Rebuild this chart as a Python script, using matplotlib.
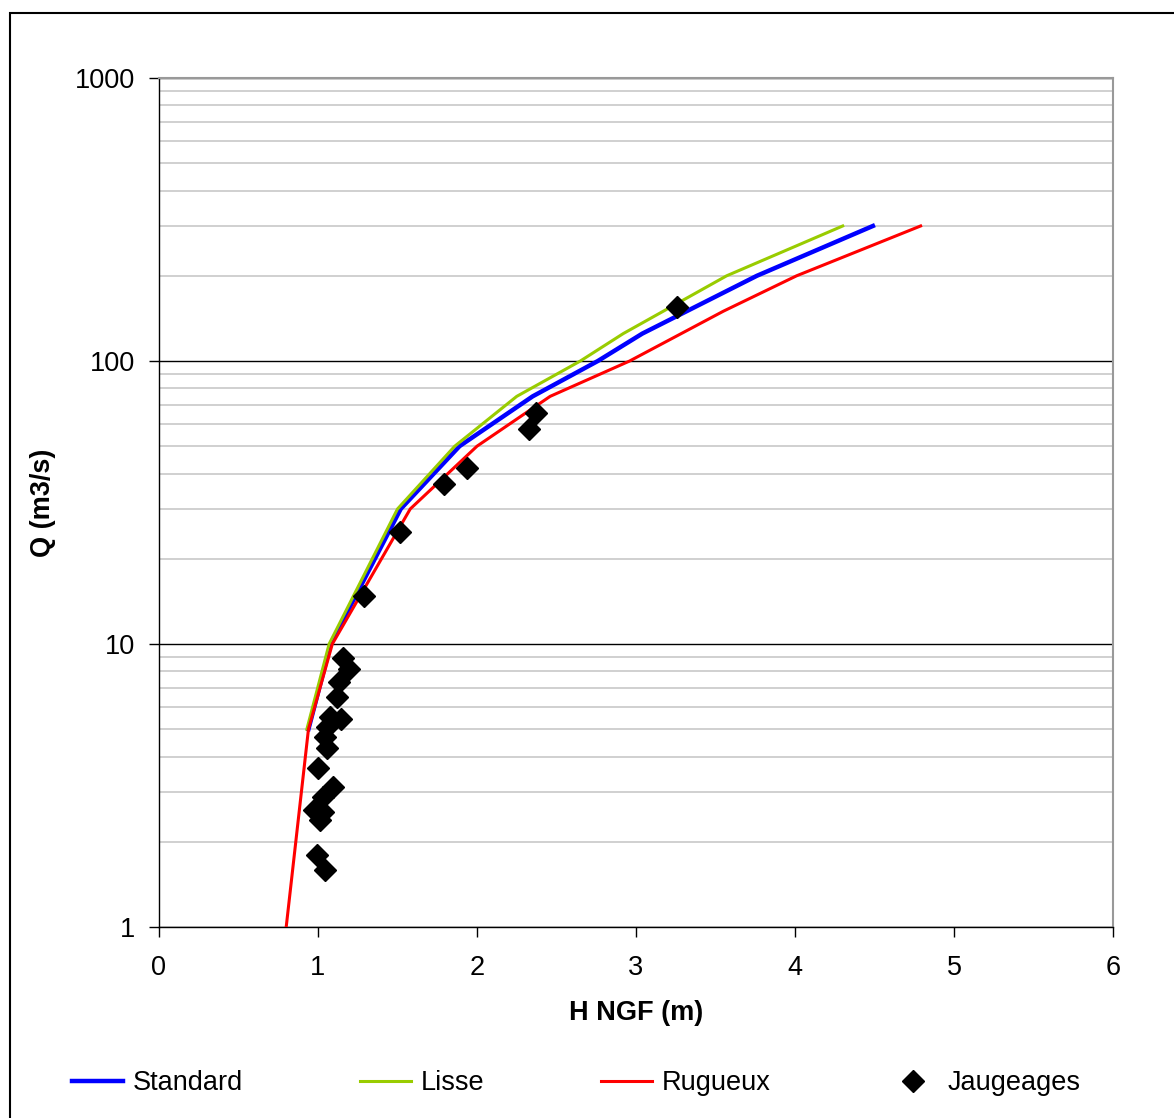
import matplotlib as mpl
mpl.use('Agg')
import matplotlib.pyplot as plt
from matplotlib.ticker import LogLocator, NullFormatter, FixedLocator
from matplotlib.patches import Rectangle
import numpy as np

plt.rcParams['font.family'] = ['Liberation Sans', 'DejaVu Sans']

# courbes de tarage (H en m NGF, Q en m3/s)
q_standard = [5, 10, 30, 50, 75, 100, 125, 200, 300]
h_standard = [0.94, 1.08, 1.52, 1.89, 2.35, 2.76, 3.04, 3.76, 4.49]

q_lisse = [5, 10, 30, 50, 75, 100, 125, 200, 300]
h_lisse = [0.93, 1.07, 1.50, 1.86, 2.25, 2.65, 2.92, 3.57, 4.30]

q_rugueux = [1, 5, 10, 30, 50, 75, 100, 150, 200, 300]
h_rugueux = [0.80, 0.94, 1.09, 1.58, 2.00, 2.46, 2.96, 3.55, 4.01, 4.79]

# jaugeages
h_jaug = [1.157, 1.195, 1.132, 1.12, 1.075, 1.145, 1.057, 1.044, 1.057, 1.0,
          1.094, 1.031, 0.975, 1.031, 1.013, 0.994, 1.044,
          1.29, 1.516, 1.79, 1.94, 2.33, 2.37, 3.26]
q_jaug = [8.92, 8.16, 7.34, 6.50, 5.52, 5.43, 5.09, 4.69, 4.29, 3.65,
          3.12, 2.88, 2.59, 2.55, 2.39, 1.80, 1.59,
          14.8, 24.9, 36.8, 41.9, 57.5, 65.5, 155]

fs = 19.5

fig = plt.figure(figsize=(11.74, 11.18), dpi=100)
ax = fig.add_axes([159/1174, 1-927/1118, (1113-159)/1174, (927-78)/1118])

ax.plot(h_standard, q_standard, color='#0000FF', lw=3.2, label='Standard', zorder=3)
ax.plot(h_lisse, q_lisse, color='#99CC00', lw=2.2, label='Lisse', zorder=3)
ax.plot(h_rugueux, q_rugueux, color='#FF0000', lw=2.2, label='Rugueux', zorder=3)
ax.plot(h_jaug, q_jaug, 'D', color='black', ms=11, ls='none', label='Jaugeages', zorder=4)

ax.set_yscale('log')
ax.set_xlim(0, 6)
ax.set_ylim(1, 1000)
ax.xaxis.set_major_locator(FixedLocator([0, 1, 2, 3, 4, 5, 6]))
ax.yaxis.set_major_locator(FixedLocator([1, 10, 100, 1000]))
ax.yaxis.set_major_formatter(mpl.ticker.FuncFormatter(lambda v, p: '%d' % v))
ax.yaxis.set_minor_locator(LogLocator(base=10, subs=np.arange(2, 10)))
ax.yaxis.set_minor_formatter(NullFormatter())

ax.grid(True, which='minor', axis='y', color='#c8c8c8', lw=1.2, zorder=1)
ax.grid(True, which='major', axis='y', color='black', lw=1.0, zorder=1)
ax.set_axisbelow(True)

ax.tick_params(axis='both', which='major', direction='out', length=7, width=1,
               labelsize=fs, color='black')
ax.tick_params(axis='y', which='major', pad=10)
ax.tick_params(axis='x', which='major', pad=13)
ax.tick_params(axis='y', which='minor', length=0)

for s in ['top', 'right']:
    ax.spines[s].set_color('#999999')
    ax.spines[s].set_linewidth(1.5)
for s in ['left', 'bottom']:
    ax.spines[s].set_color('black')
    ax.spines[s].set_linewidth(1.0)

ax.set_xlabel('H NGF (m)', fontsize=fs, fontweight='bold', labelpad=14)
ax.set_ylabel('Q (m3/s)', fontsize=fs, fontweight='bold', labelpad=14)

fig.legend(loc='center left', bbox_to_anchor=(72/1174, 1-1083/1118), ncol=4,
           frameon=False, fontsize=fs, handlelength=1.9, handletextpad=0.35,
           columnspacing=4.3, borderpad=0, borderaxespad=0)

# cadre exterieur
fig.patches.append(Rectangle((10/1174, -0.05), 1.2, 1-13/1118+0.05,
                             transform=fig.transFigure, fill=False,
                             edgecolor='black', lw=1.5))

plt.savefig('out.png', dpi=100)
